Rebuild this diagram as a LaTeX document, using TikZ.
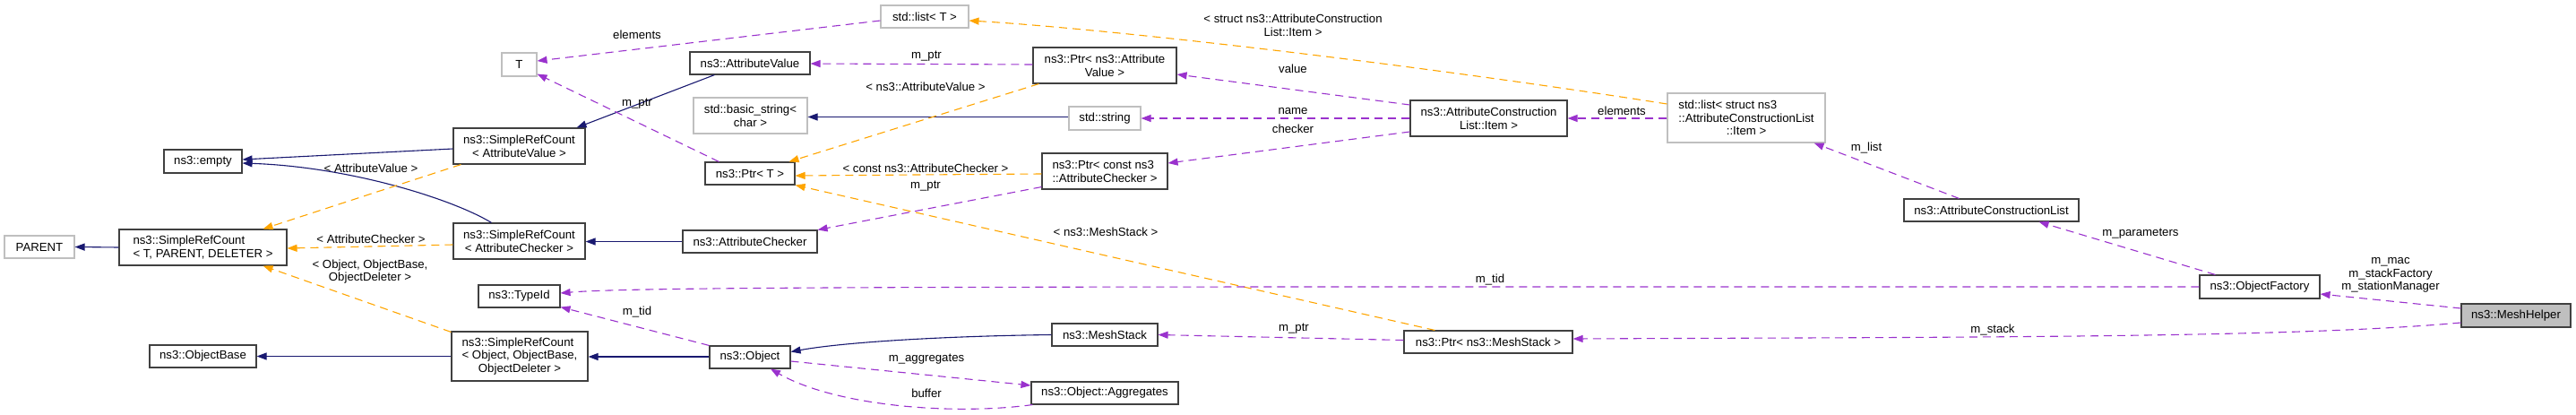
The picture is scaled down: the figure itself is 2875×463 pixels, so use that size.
\documentclass[tikz,border=0pt]{standalone}
\usepackage{fontspec}
\setmainfont{Liberation Sans}
\usetikzlibrary{arrows.meta,calc}
\definecolor{inhblue}{HTML}{191970}
\definecolor{usepurple}{HTML}{9A32CD}
\definecolor{tplorange}{HTML}{FFA500}
\definecolor{undoc}{HTML}{BFBFBF}
\definecolor{boxline}{HTML}{404040}
\begin{document}
\begin{tikzpicture}[x=1pt,y=-1pt,
  font=\fontsize{13.2}{14.7}\selectfont,
  cls/.style={draw=boxline, line width=1.1pt, fill=white, inner sep=0pt, align=center},
  ext/.style={cls, draw=undoc},
  cur/.style={cls, fill=undoc},
  tip/.style={-{Triangle[length=11pt,width=8pt]}},
  inh/.style={tip, draw=inhblue, line width=1.1pt},
  use/.style={tip, draw=usepurple, line width=1.1pt, dash pattern=on 9pt off 6pt},
  tpl/.style={tip, draw=tplorange, line width=1.1pt, dash pattern=on 9pt off 6pt},
  lbl/.style={inner sep=0pt, align=center}]
\useasboundingbox (0,0) rectangle (2875,463);
% nodes
\node[ext, minimum width=78pt, minimum height=25pt] (PARENT) at (44,275.5) {PARENT};
\node[cls, minimum width=87pt, minimum height=26pt] (empty) at (226.5,180) {ns3::empty};
\node[cls, minimum width=187pt, minimum height=40pt] (TPD) at (226.5,276) {\rlap{ns3::SimpleRefCount}\phantom{< T, PARENT, DELETER >}\\< T, PARENT, DELETER >};
\node[cls, minimum width=119pt, minimum height=25pt] (OB) at (226.5,397.5) {ns3::ObjectBase};
\node[ext, minimum width=39pt, minimum height=26pt] (T) at (579.5,72) {T};
\node[cls, minimum width=134pt, minimum height=25pt] (AV) at (837,70.5) {ns3::AttributeValue};
\node[cls, minimum width=147pt, minimum height=40pt] (SAV) at (579.5,163) {ns3::SimpleRefCount\\< AttributeValue >};
\node[ext, minimum width=127pt, minimum height=40pt] (BS) at (837.5,129) {std::basic\_string<\\char >};
\node[cls, minimum width=100pt, minimum height=25pt] (PtrT) at (837,193.5) {ns3::Ptr< T >};
\node[cls, minimum width=147pt, minimum height=40pt] (SAC) at (579.5,269) {ns3::SimpleRefCount\\< AttributeChecker >};
\node[cls, minimum width=150pt, minimum height=25pt] (AC) at (837,269.5) {ns3::AttributeChecker};
\node[cls, minimum width=91pt, minimum height=25pt] (TypeId) at (579.5,330.5) {ns3::TypeId};
\node[cls, minimum width=152pt, minimum height=55pt] (SO) at (580,397.5) {\rlap{ns3::SimpleRefCount}\phantom{< Object, ObjectBase,}\\< Object, ObjectBase,\\ObjectDeleter >};
\node[cls, minimum width=90pt, minimum height=25pt] (Object) at (837,398.5) {ns3::Object};
\node[ext, minimum width=98pt, minimum height=25pt] (listT) at (1032,18.5) {std::list< T >};
\node[cls, minimum width=160pt, minimum height=40pt] (PtrAV) at (1233,73) {ns3::Ptr< ns3::Attribute\\Value >};
\node[ext, minimum width=80pt, minimum height=26pt] (str) at (1233,132) {std::string};
\node[cls, minimum width=140pt, minimum height=40pt] (PtrAC) at (1233,191) {\rlap{ns3::Ptr< const ns3}\phantom{::AttributeChecker >}\\::AttributeChecker >};
\node[cls, minimum width=118pt, minimum height=25pt] (MS) at (1233,373.5) {ns3::MeshStack};
\node[cls, minimum width=164pt, minimum height=25pt] (Agg) at (1233,438.5) {ns3::Object::Aggregates};
\node[cls, minimum width=175pt, minimum height=40pt] (Item) at (1661.5,132) {ns3::AttributeConstruction\\List::Item >};
\node[cls, minimum width=188pt, minimum height=25pt] (PtrMS) at (1661,381.5) {ns3::Ptr< ns3::MeshStack >};
\node[ext, minimum width=176pt, minimum height=55pt] (LI) at (1949,131.5) {\rlap{std::list< struct ns3}\phantom{::AttributeConstructionList}\\::AttributeConstructionList\\::Item >};
\node[cls, minimum width=195pt, minimum height=25pt] (ACL) at (2222.5,234.5) {ns3::AttributeConstructionList};
\node[cls, minimum width=134pt, minimum height=26pt] (OF) at (2522,320) {ns3::ObjectFactory};
\node[cur, minimum width=122pt, minimum height=26pt] (MH) at (2808,352) {ns3::MeshHelper};
% inheritance
\draw[inh] (TPD.west) -- (PARENT.east);
\draw[inh] ($(SAV.west)+(0,3)$) -- ($(empty.east)+(0,-2)$);
\draw[inh] ($(SAC.north)+(-31,0)$) .. controls (505,222) and (390,186) .. ($(empty.east)+(0,2)$);
\draw[inh] (SO.west) -- (OB.east);
\draw[inh] ($(Object.west)+(0,-0.5)$) -- ($(SO.east)+(0,0.5)$);
\draw[inh] (AC.west) -- ($(SAC.east)+(0,0.5)$);
\draw[inh] ($(AV.south west)+(28,0)$) -- ($(SAV.north east)+(-10,0)$);
\draw[inh] ($(str.west)+(0,-1.5)$) -- ($(BS.east)+(0,1.5)$);
\draw[inh] (MS.west) .. controls (1050,375) and (940,382) .. ($(Object.east)+(0,-6)$);
% templates
\draw[tpl] ($(SAV.south west)+(9,0)$) -- ($(TPD.north east)+(-27,0)$);
\draw[tpl] ($(SAC.west)+(0,4)$) -- ($(TPD.east)+(0,1)$);
\draw[tpl] ($(SO.north west)+(0,1)$) -- ($(TPD.south east)+(-27,0)$);
\draw[tpl] ($(PtrAV.south west)+(7,0)$) -- ($(PtrT.north east)+(-7,0)$);
\draw[tpl] ($(PtrAC.west)+(0,3)$) -- ($(PtrT.east)+(0,2.5)$);
\draw[tpl] ($(PtrMS.north west)+(35,0)$) -- (PtrT.south east);
\draw[tpl] ($(LI.west)+(0,-15.5)$) .. controls (1600,75) and (1250,33) .. ($(listT.east)+(0,4.5)$);
% usage
\draw[use] ($(PtrT.north west)+(16,0)$) -- ($(T.south east)+(0,-3)$);
\draw[use] ($(listT.west)+(0,4.5)$) -- ($(T.east)+(0,-4)$);
\draw[use] ($(PtrAV.west)+(0,-1)$) -- ($(AV.east)+(0,0.5)$);
\draw[use] ($(PtrAC.south west)+(0,-3)$) -- (AC.north east);
\draw[use] ($(PtrMS.west)+(0,-2)$) -- (MS.east);
\draw[use] (Object.north west) -- ($(TypeId.south east)+(0,-1)$);
\draw[use] (OF.west) .. controls (1200,320) and (720,319) .. ($(TypeId.east)+(0,-3.5)$);
\draw[use] ($(Agg.south west)+(2,0)$) .. controls (1060,464) and (930,452) .. ($(Object.south)+(23,0)$);
\draw[use] ($(Object.east)+(0,4.5)$) -- ($(Agg.west)+(0,-8.5)$);
\draw[use] ($(Item.west)+(0,-15)$) -- ($(PtrAV.east)+(0,10)$);
\draw[use] (Item.west) -- (str.east);
\draw[use] ($(Item.west)+(0,15)$) -- ($(PtrAC.east)+(0,-9)$);
\draw[use] ($(LI.west)+(0,0.5)$) -- (Item.east);
\draw[use] ($(ACL.north west)+(62,0)$) -- ($(LI.south east)+(-13,0)$);
\draw[use] ($(OF.north west)+(18,0)$) -- ($(ACL.south east)+(-45,0)$);
\draw[use] ($(MH.west)+(0,-8)$) -- ($(OF.east)+(0,8)$);
\draw[use] ($(MH.west)+(0,8)$) .. controls (2560,377) and (2200,376) .. ($(PtrMS.east)+(0,-3.5)$);
% labels
\node[lbl] (l1) at (414,188) {< AttributeValue >};
\node[lbl] (l2) at (414,267) {< AttributeChecker >};
\node[lbl] (l3) at (413,303) {< Object, ObjectBase,\\ObjectDeleter >};
\node[lbl] (l4) at (711,39) {elements};
\node[lbl] (l5) at (711,116) {m\_ptr};
\node[lbl] (l6) at (1034,63) {m\_ptr};
\node[lbl] (l7) at (1033,97) {< ns3::AttributeValue >};
\node[lbl] (l8) at (1033,188) {< const ns3::AttributeChecker >};
\node[lbl] (l9) at (1033,208) {m\_ptr};
\node[lbl] (l10) at (1234,259) {< ns3::MeshStack >};
\node[lbl] (l11) at (711,348) {m\_tid};
\node[lbl] (l12) at (1034,401) {m\_aggregates};
\node[lbl] (l13) at (1034,439) {buffer};
\node[lbl] (l14) at (1444,367) {m\_ptr};
\node[lbl] (l15) at (1443,77) {value};
\node[lbl] (l16) at (1443,124) {name};
\node[lbl] (l17) at (1443,144) {checker};
\node[lbl] (l18) at (1810,124) {elements};
\node[lbl] (l19) at (1443,28) {< struct ns3::AttributeConstruction\\List::Item >};
\node[lbl] (l20) at (2083,165) {m\_list};
\node[lbl] (l21) at (1663,312) {m\_tid};
\node[lbl] (l22) at (2389,261) {m\_parameters};
\node[lbl] (l23) at (2668,307) {m\_mac\\m\_stackFactory\\m\_stationManager};
\node[lbl] (l24) at (2224,368) {m\_stack};
\end{tikzpicture}
\end{document}
